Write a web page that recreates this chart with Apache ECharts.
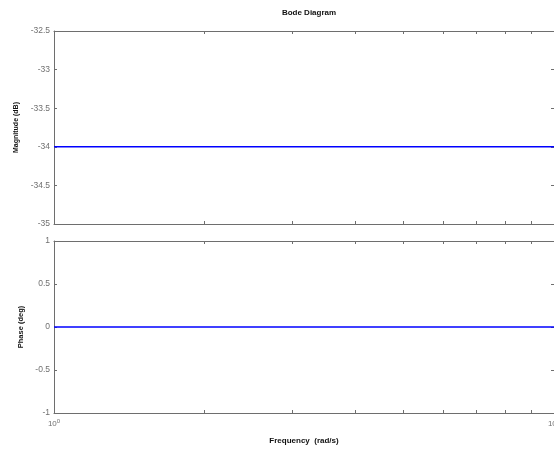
<!DOCTYPE html>
<html>
<head>
<meta charset="utf-8">
<script src="https://cdn.jsdelivr.net/npm/echarts@6/dist/echarts.min.js"></script>
<style>html,body{margin:0;padding:0;background:#fff}#c{width:554px;height:452px}</style>
</head>
<body>
<div id="c"></div>
<script>
const frequencies = [1, 10];
const magnitudeDb = [-34, -34];
const phaseDeg = [0, 0];
const xMajorTicks = [1, 10];
const xAllTicks = [1, 2, 3, 4, 5, 6, 7, 8, 9, 10];
const magTicks = [-32.5, -33, -33.5, -34, -34.5, -35];
const phaseTicks = [1, 0.5, 0, -0.5, -1];

const chart = echarts.init(document.getElementById('c'));
const FONT = 'Liberation Sans, Arial, sans-serif';
const frameColor = '#6e6e6e';
const labelColor = '#707070';

function xAxisDef(grid, pos, showLabels, name) {
  return {
    type: 'log', logBase: 10, min: 1, max: 10, gridIndex: grid, position: pos,
    axisLine: { show: true, onZero: false, lineStyle: { color: frameColor, width: 1 } },
    axisTick: { show: true, inside: true, length: 3, customValues: xAllTicks, lineStyle: { color: frameColor } },
    minorTick: { show: false },
    splitLine: { show: false },
    axisLabel: {
      show: showLabels, customValues: xMajorTicks, color: labelColor, fontFamily: FONT, fontSize: 8, margin: 5,
      formatter: v => '10{s|' + Math.round(Math.log10(v)) + '}',
      rich: { s: { fontSize: 6, verticalAlign: 'top', padding: [0, 0, 6, 0], color: labelColor, fontFamily: FONT } }
    },
    name: name || '', nameLocation: 'middle', nameGap: 24,
    nameTextStyle: { color: '#111', fontFamily: FONT, fontSize: 8, fontWeight: 'bold' }
  };
}
function yAxisDef(grid, pos, min, max, ticks, showLabels, name, nameGap, nameSize) {
  return {
    type: 'value', min: min, max: max, interval: 0.5, gridIndex: grid, position: pos,
    axisLine: { show: true, onZero: false, lineStyle: { color: frameColor, width: 1 } },
    axisTick: { show: true, inside: true, length: 3, lineStyle: { color: frameColor } },
    splitLine: { show: false },
    axisLabel: { show: showLabels, customValues: ticks, color: labelColor, fontFamily: FONT, fontSize: 8.5, margin: 4 },
    name: name || '', nameLocation: 'middle', nameGap: nameGap || 0, nameRotate: 90,
    nameTextStyle: { color: '#111', fontFamily: FONT, fontSize: nameSize || 7, fontWeight: 'bold' }
  };
}

chart.setOption({
  animation: false,
  backgroundColor: '#ffffff',
  title: {
    text: 'Bode Diagram', left: 304, top: 4, textAlign: 'center',
    textStyle: { fontFamily: FONT, fontSize: 8, fontWeight: 'bold', color: '#111' }
  },
  grid: [
    { left: 54, top: 31, width: 500, height: 193, outerBoundsMode: 'none', containLabel: false },
    { left: 54, top: 241, width: 500, height: 172, outerBoundsMode: 'none', containLabel: false }
  ],
  xAxis: [
    xAxisDef(0, 'bottom', false),
    xAxisDef(0, 'top', false),
    xAxisDef(1, 'bottom', true, 'Frequency  (rad/s)'),
    xAxisDef(1, 'top', false)
  ],
  yAxis: [
    yAxisDef(0, 'left', -35, -32.5, magTicks, true, 'Magnitude (dB)', 30, 7),
    yAxisDef(0, 'right', -35, -32.5, magTicks, false),
    yAxisDef(1, 'left', -1, 1, phaseTicks, true, 'Phase (deg)', 27, 7.5),
    yAxisDef(1, 'right', -1, 1, phaseTicks, false)
  ],
  series: [
    {
      type: 'line', xAxisIndex: 0, yAxisIndex: 0, showSymbol: false,
      data: frequencies.map((f, i) => [f, magnitudeDb[i]]),
      lineStyle: { color: '#0000ff', width: 1.6 }
    },
    {
      type: 'line', xAxisIndex: 2, yAxisIndex: 2, showSymbol: false,
      data: frequencies.map((f, i) => [f, phaseDeg[i]]),
      lineStyle: { color: '#0000ff', width: 1.6 }
    }
  ]
});
</script>
</body>
</html>
